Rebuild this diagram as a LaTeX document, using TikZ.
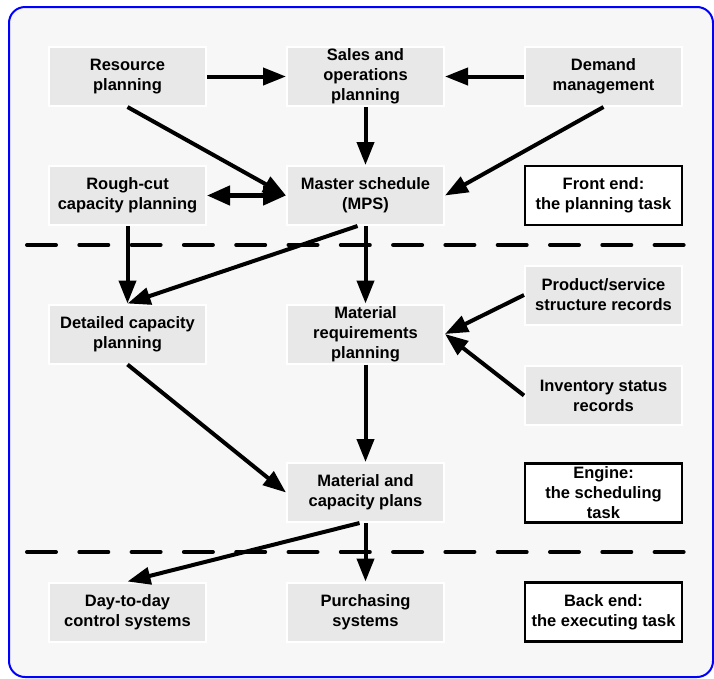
\documentclass[tikz,border=0pt]{standalone}
\usepackage{fontspec}
\setmainfont{Liberation Sans}
\usetikzlibrary{arrows.meta}
\definecolor{bg}{HTML}{F7F7F7}
\definecolor{boxgray}{HTML}{E8E8E8}
\begin{document}
\begin{tikzpicture}[x=1pt,y=-1pt,
  box/.style={draw=white, line width=2pt, fill=boxgray, minimum width=157pt, minimum height=59pt, inner sep=0pt, align=center, font=\fontsize{16.5}{20}\selectfont\bfseries},
  labelbox/.style={box, draw=black, fill=white, line width=2.5pt},
  arr/.style={line width=4pt, -{Triangle[length=23pt,width=17pt]}},
  darr/.style={line width=4.5pt, {Triangle[length=23pt,width=19pt]}-{Triangle[length=23pt,width=19pt]}},
  sepline/.style={line width=4pt, line cap=round, dash pattern=on 29pt off 23.3pt}]
\useasboundingbox (0,0) rectangle (714,678);
\draw[blue, line width=2pt, fill=bg, rounded corners=16pt] (9,7) rectangle (713,677);

\node[box] (res) at (127.5,76.5) {Resource\\planning};
\node[box] (sop) at (365.5,76.5) {Sales and\\operations\\planning};
\node[box] (dem) at (603.5,76.5) {Demand\\management};
\node[box] (rcp) at (127.5,195.5) {Rough-cut\\capacity planning};
\node[box] (mps) at (365.5,195.5) {Master schedule\\(MPS)};
\node[labelbox] (fe) at (603.5,195.5) {Front end:\\the planning task};
\node[box] (dcp) at (127.5,334) {Detailed capacity\\planning};
\node[box] (mrp) at (365.5,334) {Material\\requirements\\planning};
\node[box] (psr) at (603.5,295) {Product/service\\structure records};
\node[box] (isr) at (603.5,395.5) {Inventory status\\records};
\node[box] (mcp) at (365.5,492.5) {Material and\\capacity plans};
\node[labelbox] (eng) at (603.5,493) {Engine:\\the scheduling\\task};
\node[box] (day) at (127.5,612) {Day-to-day\\control systems};
\node[box] (pur) at (365.5,612) {Purchasing\\systems};
\node[labelbox] (be) at (603.5,612) {Back end:\\the executing task};

\coordinate (s1a) at (27,245);
\coordinate (s1b) at (689,245);
\coordinate (s2a) at (27,552);
\coordinate (s2b) at (689,552);
\draw[sepline] (s1a) -- (s1b);
\draw[sepline] (s2a) -- (s2b);

\draw[arr] (res) -- (sop);
\draw[arr] (dem) -- (sop);
\draw[arr] (sop) -- (mps);
\draw[arr] (res.south) -- (mps.west);
\draw[arr] (dem.south) -- (mps.east);
\draw[darr] (rcp) -- (mps);
\draw[arr] (rcp) -- (dcp);
\draw[arr] ([xshift=-8pt]mps.south) -- (dcp.north);
\draw[arr] (mps) -- (mrp);
\draw[arr] (psr.west) -- (mrp.east);
\draw[arr] (isr.west) -- (mrp.east);
\draw[arr] (mrp) -- (mcp);
\draw[arr] (dcp.south) -- (mcp.west);
\draw[arr] ([xshift=-6pt]mcp.south) -- (day.north);
\draw[arr] (mcp) -- (pur);
\end{tikzpicture}
\end{document}
